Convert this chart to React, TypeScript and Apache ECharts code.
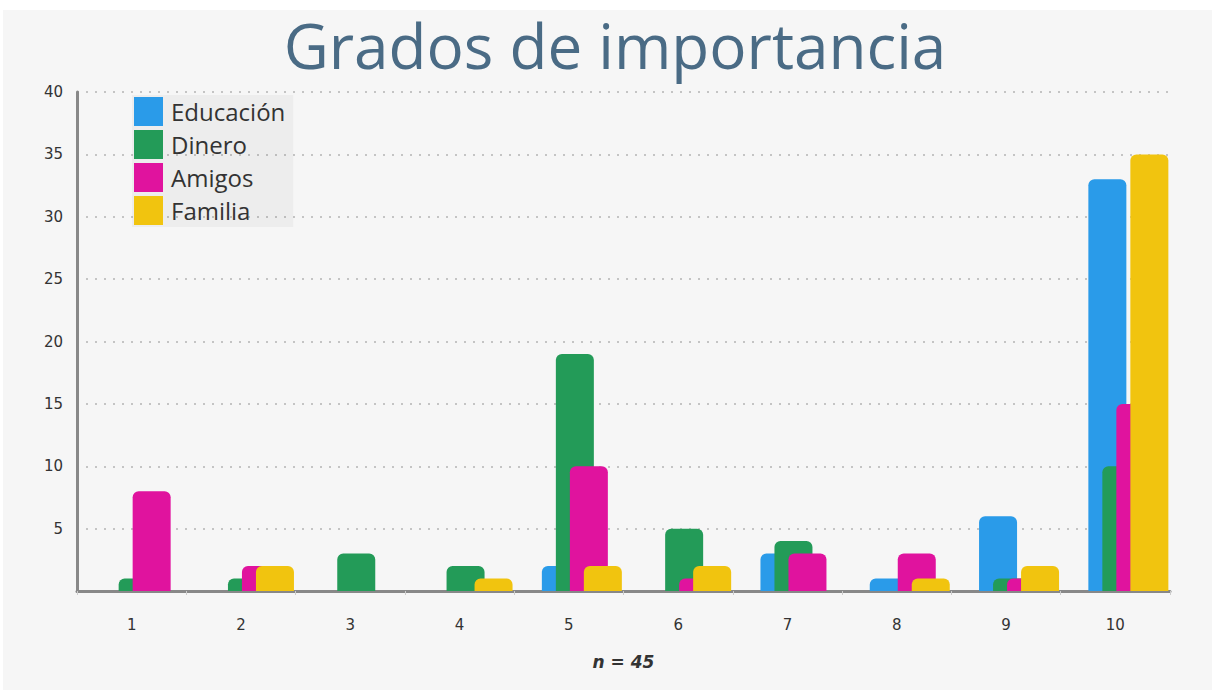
import React, { useEffect, useRef } from "react";
import * as echarts from "echarts";

const categories = ["1", "2", "3", "4", "5", "6", "7", "8", "9", "10"];
const educacion = [0, 0, 0, 0, 2, 0, 3, 1, 6, 33];
const dinero = [1, 1, 3, 2, 19, 5, 4, 0, 1, 10];
const amigos = [8, 2, 0, 0, 10, 1, 3, 3, 1, 15];
const familia = [0, 2, 0, 1, 2, 2, 0, 1, 2, 35];
const seriesNames = ["Educación", "Dinero", "Amigos", "Familia"];
const seriesColors = ["#2a9be9", "#239b58", "#e0139e", "#f1c40f"];
const titleText = "Grados de importancia";
const xName = "n = 45";

export default function App() {
  const ref = useRef<HTMLDivElement>(null);
  useEffect(() => {
    if (!ref.current) return;
    const chart = echarts.init(ref.current, undefined, { renderer: "svg" });
    const values = [educacion, dinero, amigos, familia];
    const gap = "-63.16%";
    const bars = values.map((d, i) => ({
      name: seriesNames[i],
      type: "bar",
      data: d,
      barWidth: 38,
      barGap: gap,
      itemStyle: { color: seriesColors[i], borderRadius: [6, 6, 0, 0] },
    }));
    chart.setOption({
      animation: false,
      backgroundColor: "#ffffff",
      graphic: [
        {
          type: "rect",
          z: -10,
          shape: { x: 3, y: 10, width: 1209, height: 680 },
          style: { fill: "#f6f6f6" },
          silent: true,
        },
        {
          type: "text",
          x: 615,
          y: 14,
          style: {
            text: titleText,
            fontFamily: "Open Sans",
            fontWeight: "normal",
            fontSize: 62,
            fill: "#4a6b85",
            textAlign: "center",
            textVerticalAlign: "top",
          },
        },
      ],
      legend: {
        data: seriesNames,
        orient: "vertical",
        left: 132,
        top: 95,
        padding: [2, 8, 2, 2],
        itemWidth: 29,
        itemHeight: 29,
        itemGap: 4,
        backgroundColor: "rgba(0,0,0,0.035)",
        icon: "rect",
        textStyle: { fontFamily: "Open Sans", fontSize: 24, color: "#333", padding: [0, 0, 0, 3] },
      },
      grid: { left: 77, right: 42, top: 92, bottom: 104, containLabel: false },
      xAxis: {
        type: "category",
        data: categories,
        name: xName,
        nameLocation: "middle",
        nameGap: 62,
        nameTextStyle: {
          fontFamily: "DejaVu Sans",
          fontSize: 17,
          fontStyle: "italic",
          fontWeight: "bold",
          color: "#333",
        },
        axisLine: { lineStyle: { color: "#888", width: 3 } },
        axisTick: { show: true, length: 4, lineStyle: { color: "#ccc", width: 1 } },
        axisLabel: { margin: 26, fontFamily: "DejaVu Sans", fontSize: 15, color: "#333" },
        splitLine: { show: false },
      },
      yAxis: {
        type: "value",
        min: 0,
        max: 40,
        interval: 5,
        axisLine: { show: true, lineStyle: { color: "#888", width: 3 } },
        axisTick: { show: false },
        axisLabel: {
          margin: 14,
          fontFamily: "DejaVu Sans",
          fontSize: 15,
          color: "#333",
          formatter: (v: number) => (v === 0 ? "" : String(v)),
        },
        splitLine: { lineStyle: { color: "#c4c4c4", type: [2, 7], width: 2 } },
      },
      series: [
        {
          name: "_shift",
          type: "bar",
          data: categories.map(() => "-"),
          barWidth: 70.6,
          barGap: gap,
          silent: true,
          itemStyle: { color: "transparent" },
        },
        ...bars,
      ],
    });
    return () => chart.dispose();
  }, []);
  return (
    <div
      ref={ref}
      style={{ position: "fixed", left: 0, top: 0, width: 1212, height: 695 }}
    />
  );
}
